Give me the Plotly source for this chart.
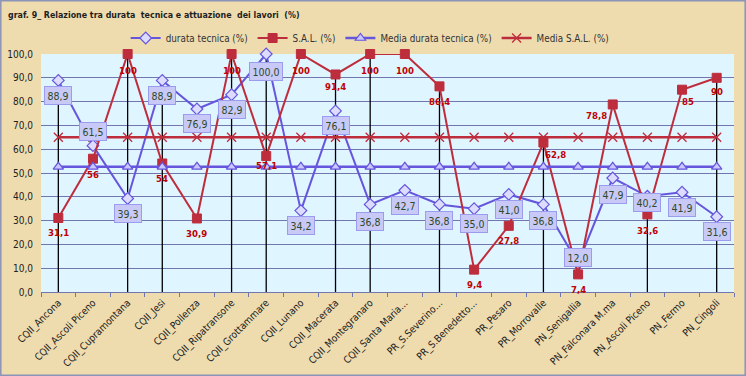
import plotly.graph_objects as go

categories = ["CQII_Ancona", "CQII_Ascoli Piceno", "CQII_Cupramontana", "CQII_Jesi",
              "CQII_Pollenza", "CQII_Ripatransone", "CQII_Grottammare", "CQII_Lunano",
              "CQII_Macerata", "CQII_Montegranaro", "CQII_Santa Maria…", "PR_S.Severino…",
              "PR_S.Benedetto…", "PR_Pesaro", "PR_Morrovalle", "PN_Senigallia",
              "PN_Falconara M.ma", "PN_Ascoli Piceno", "PN_Fermo", "PN_Cingoli"]
durata = [88.9, 61.5, 39.3, 88.9, 76.9, 82.9, 100.0, 34.2, 76.1, 36.8,
          42.7, 36.8, 35.0, 41.0, 36.8, 12.0, 47.9, 40.2, 41.9, 31.6]
sal = [31.1, 56, 100, 54, 30.9, 100, 57.1, 100, 91.4, 100,
       100, 86.4, 9.4, 27.8, 62.8, 7.4, 78.8, 32.6, 85, 90]
media_durata = [52.6] * 20
media_sal = [65.0] * 20
drop_idx = [0, 2, 3, 5, 6, 8, 9, 11, 14, 17, 19]

# label offsets (styling)
dur_shift = [-15, 14, -15, -15, -15, -15, -17, -15, -15, -17,
             -15, -16, -15, -15, -16, 6, -16, -6, -15, -15]
sal_shift = [(0, -15), (0, -16), (0, -16), (0, -15), (0, -15), (0, -16), (0, -9), (0, -16), (0, -12), (0, -16),
             (0, -16), (0, -15), (0, -15), (0, -15), (12, -12), (0, -15), (-16, -11), (0, -16), (6, -12), (0, -14)]

BLUE = "#6655DD"
RED = "#BE2D3C"
GRID = "#7276AE"
FONT = "Liberation Sans Narrow, DejaVu Sans Condensed, Arial Narrow, sans-serif"
LBLFONT = "DejaVu Sans Condensed, DejaVu Sans, sans-serif"

def fmt(v, always_dec=True):
    if not always_dec and float(v).is_integer():
        return str(int(v))
    return f"{v:.1f}".replace(".", ",")

fig = go.Figure()

# drop lines
dx, dy = [], []
for i in drop_idx:
    dx += [categories[i], categories[i], None]
    dy += [0, max(durata[i], sal[i]), None]
fig.add_trace(go.Scatter(x=dx, y=dy, mode="lines", line=dict(color="black", width=1.3),
                         showlegend=False, hoverinfo="skip"))

fig.add_trace(go.Scatter(x=categories, y=durata, name="durata tecnica (%)", mode="lines+markers",
                         line=dict(color=BLUE, width=2),
                         marker=dict(symbol="diamond", size=9, color="#DCDCFF",
                                     line=dict(color=BLUE, width=1.2)),
                         cliponaxis=False))
fig.add_trace(go.Scatter(x=categories, y=sal, name="S.A.L. (%)", mode="lines+markers",
                         line=dict(color=RED, width=2),
                         marker=dict(symbol="square", size=9, color=RED,
                                     line=dict(color=RED, width=1)),
                         cliponaxis=False))
fig.add_trace(go.Scatter(x=categories, y=media_durata, name="Media durata tecnica (%)", mode="lines+markers",
                         line=dict(color=BLUE, width=2.5),
                         marker=dict(symbol="triangle-up", size=9, color="#C8C8FF",
                                     line=dict(color=BLUE, width=1.2)),
                         cliponaxis=False))
fig.add_trace(go.Scatter(x=categories, y=media_sal, name="Media S.A.L. (%)", mode="lines+markers",
                         line=dict(color=RED, width=2.5),
                         marker=dict(symbol="x-thin-open", size=9, color=RED,
                                     line=dict(color=RED, width=1.3)),
                         cliponaxis=False))

annotations = []
for i, c in enumerate(categories):
    annotations.append(dict(x=c, y=durata[i], xref="x", yref="y", text=fmt(durata[i]),
                            showarrow=False, yshift=dur_shift[i],
                            font=dict(family=LBLFONT, size=10.5, color="#2E4A26"),
                            bgcolor="#C9C9F7", bordercolor="#9C9CEE", borderwidth=1, borderpad=2.5))
    sx, sy = sal_shift[i]
    annotations.append(dict(x=c, y=sal[i], xref="x", yref="y", text="<b>" + fmt(sal[i], False) + "</b>",
                            showarrow=False, xshift=sx, yshift=sy,
                            font=dict(family=LBLFONT, size=9.5, color="#C00000")))

fig.update_layout(
    width=746, height=376,
    margin=dict(l=41, r=12, t=54, b=84, autoexpand=False),
    paper_bgcolor="#EEDCAF",
    plot_bgcolor="#DFF5FF",
    separators=",.",
    title=dict(text="<b>graf. 9_ Relazione tra durata  tecnica e attuazione  dei lavori  (%)</b>",
               x=8 / 746, xref="container", xanchor="left", y=1 - 15 / 376, yref="container",
               yanchor="middle", font=dict(family=FONT, size=8.8, color="#1E1E1E")),
    legend=dict(orientation="h", x=0.475, xanchor="center", y=1 + 16 / 238, yanchor="middle",
                font=dict(family=FONT, size=9.8, color="#333333"), bgcolor="rgba(0,0,0,0)",
                itemwidth=30, traceorder="normal"),
    annotations=annotations,
    showlegend=True,
)
fig.update_xaxes(type="category", categoryorder="array", categoryarray=categories,
                 range=[-0.5, 19.5], tickangle=-45, showgrid=False, automargin=False,
                 showline=True, linecolor=GRID, linewidth=1, ticks="outside", tickson="boundaries",
                 ticklen=4, tickcolor=GRID,
                 tickfont=dict(family=FONT, size=10, color="#222222"))
fig.update_yaxes(range=[0, 100], dtick=10, tickformat=".1f", showgrid=True, gridcolor=GRID,
                 gridwidth=1, zeroline=False, showline=False, ticks="", automargin=False,
                 ticklabelstandoff=7,
                 tickfont=dict(family=FONT, size=10, color="#222222"))

# outer chart border
fig.add_shape(type="rect", xref="paper", yref="paper",
              x0=-40.2 / 693, x1=1 + 11.2 / 693, y0=-83.2 / 238, y1=1 + 53.2 / 238,
              line=dict(color="#8A93B8", width=1.5), fillcolor="rgba(0,0,0,0)", layer="above")

fig.write_html("out.html", config={"displayModeBar": False},
               post_script="document.body.style.margin='0';document.body.style.overflow='hidden';")
